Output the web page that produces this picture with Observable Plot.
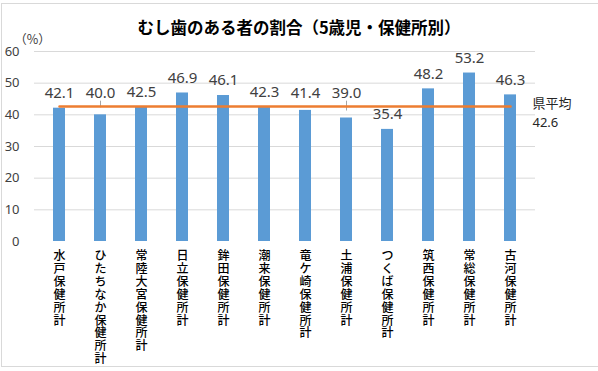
<!DOCTYPE html>
<html>
<head>
<meta charset="utf-8">
<script src="https://cdn.jsdelivr.net/npm/d3@7"></script>
<script src="https://cdn.jsdelivr.net/npm/@observablehq/plot@0.6"></script>
<style>
  html, body { margin: 0; padding: 0; background: #fff; }
  #wrap { position: relative; width: 598px; height: 371px; overflow: hidden; }
  #border { position: absolute; left: 1px; top: 3px; width: 700px; height: 362px; border: 1px solid #d9d9d9; pointer-events: none; }
</style>
</head>
<body>
<div id="wrap"><div id="border"></div></div>
<script>
const title = "むし歯のある者の割合（5歳児・保健所別）";
const unitLabel = "（%）";
const names = ["水戸保健所計", "ひたちなか保健所計", "常陸大宮保健所計", "日立保健所計", "鉾田保健所計", "潮来保健所計", "竜ケ崎保健所計", "土浦保健所計", "つくば保健所計", "筑西保健所計", "常総保健所計", "古河保健所計"];
const rates = [42.1, 40.0, 42.5, 46.9, 46.1, 42.3, 41.4, 39.0, 35.4, 48.2, 53.2, 46.3];
const avgName = "県平均";
const avgValue = 42.6;
const yTicks = [0, 10, 20, 30, 40, 50, 60];

const data = names.map((name, i) => {
  const v = rates[i];
  const lv = (v >= 38 && v < avgValue) ? Math.max(v, 42.1) : v;
  return {name, value: v, labelValue: lv};
});
const leaders = data.filter(d => d.labelValue - d.value > 1);

const font = "'Noto Sans', 'Noto Sans CJK JP', sans-serif";
const cjk = "'Noto Sans CJK JP', sans-serif";

const chart = Plot.plot({
  width: 598,
  height: 371,
  marginLeft: 34,
  marginRight: 63,
  marginTop: 51,
  marginBottom: 130,
  style: {fontFamily: font, background: "transparent", overflow: "visible"},
  x: {type: "band", domain: names, paddingInner: 0.7, paddingOuter: 0.35, axis: null},
  y: {domain: [0, 60], axis: null},
  marks: [
    Plot.gridY(yTicks.filter(t => t > 0), {stroke: "#d9d9d9", strokeOpacity: 1, strokeWidth: 1}),
    Plot.axisY(yTicks, {tickSize: 0, tickPadding: 15, fontSize: 13, fill: "#404040", textAnchor: "end"}),
    Plot.barY(data, {x: "name", y: "value", fill: "#5B9BD5"}),
    Plot.ruleX(leaders, {x: "name", y1: "value", y2: "labelValue", dy: -7, stroke: "#a6a6a6", strokeWidth: 1}),
    Plot.lineY(names, {x: d => d, y: () => avgValue, stroke: "#ED7D31", strokeWidth: 2.5}),
    Plot.text(data, {x: "name", y: "labelValue", text: d => d.value.toFixed(1), dy: -15, fontSize: 15, fill: "#404040"}),
    Plot.text(data, {x: "name", y: 0, text: d => Array.from(d.name).join("\n"), lineAnchor: "top", dy: 9, fontSize: 12, lineHeight: 1.08, fill: "#000", fontFamily: cjk, fontWeight: 500}),
    Plot.text([avgName + "\n" + avgValue.toFixed(1)], {x: () => names[names.length - 1], y: () => avgValue, text: d => d, textAnchor: "start", dx: 22, dy: 5, fontSize: 13, lineHeight: 1.4, fill: "#262626"}),
    Plot.text([title], {frameAnchor: "top", text: d => d, dx: 14, dy: -29, fontSize: 16.5, fontWeight: "bold", fill: "#000", fontFamily: cjk}),
    Plot.text([unitLabel], {frameAnchor: "top-left", text: d => d, textAnchor: "middle", dx: -2, dy: -16, fontSize: 12.5, fill: "#404040", fontFamily: cjk})
  ]
});
document.getElementById("wrap").appendChild(chart);
</script>
</body>
</html>
